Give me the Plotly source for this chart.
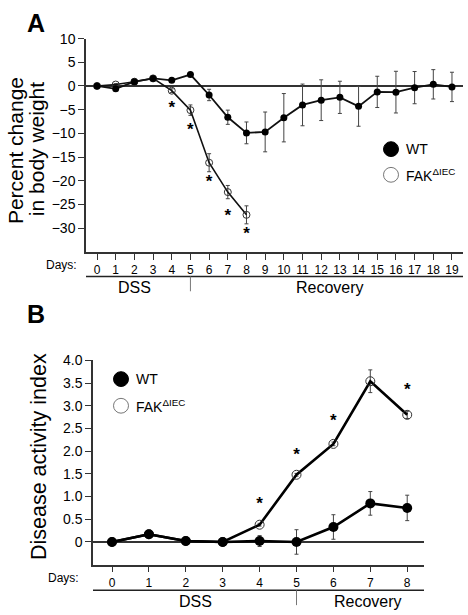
import plotly.graph_objects as go

W, H = 468, 615
FONT = "Liberation Sans, Arial, Helvetica, sans-serif"

# ---------- Panel A data ----------
days_a = list(range(0, 20))
wt_a = [0, -0.6, 0.9, 1.6, 1.2, 2.4, -1.9, -6.6, -9.9, -9.7, -6.7, -4.0, -3.0, -2.4, -4.3, -1.25, -1.3, -0.35, 0.35, -0.2]
wt_a_err = [0.2, 0.2, 0.2, 0.2, 0.2, 0.2, 1.2, 1.5, 2.3, 4.2, 5.1, 4.4, 4.3, 3.4, 4.2, 3.3, 4.4, 3.4, 3.1, 3.1]
days_fak_a = list(range(0, 9))
fak_a = [0, 0.3, 0.9, 1.6, -1.0, -5.1, -16.2, -22.4, -27.2]
fak_a_err = [0.2, 0.2, 0.2, 0.2, 0.4, 1.1, 1.9, 1.4, 1.9]
star_days_a = [4, 5, 6, 7, 8]
star_y_a = [-4.8, -9.4, -20.4, -27.5, -31.5]
yticks_a = [-30, -25, -20, -15, -10, -5, 0, 5, 10]

# ---------- Panel B data ----------
days_b = list(range(0, 9))
wt_b = [0, 0.17, 0.02, 0, 0.02, 0.0, 0.33, 0.85, 0.75]
wt_b_err = [0.02, 0.03, 0.02, 0.02, 0.12, 0.27, 0.27, 0.26, 0.28]
fak_b = [0, 0.17, 0.02, 0, 0.38, 1.48, 2.16, 3.54, 2.80]
fak_b_err = [0.02, 0.02, 0.02, 0.02, 0.03, 0.03, 0.04, 0.25, 0.08]
star_days_b = [4, 5, 6, 7, 8]
star_y_b = [0.83, 1.89, 2.65, 4.07, 3.32]
yticks_b = [0, 0.5, 1.0, 1.5, 2.0, 2.5, 3.0, 3.5, 4.0]
yticklabels_b = ["0", "0.5", "1.0", "1.5", "2.0", "2.5", "3.0", "3.5", "4.0"]


def px(x):
    return x / W


def py(y):
    return 1 - y / H


fig = go.Figure()

err_style = dict(type="data", thickness=1, width=2, color="#444")

# Panel A traces
fig.add_trace(go.Scatter(
    x=days_fak_a, y=fak_a, mode="lines+markers",
    line=dict(color="#111", width=1.6),
    marker=dict(symbol="circle-open", size=7, color="#333", line=dict(width=1)),
    error_y=dict(array=fak_a_err, **err_style),
    xaxis="x", yaxis="y", showlegend=False))
fig.add_trace(go.Scatter(
    x=days_a, y=wt_a, mode="lines+markers",
    line=dict(color="#111", width=1.8),
    marker=dict(symbol="circle", size=7, color="#000"),
    error_y=dict(array=wt_a_err, **err_style),
    xaxis="x", yaxis="y", showlegend=False))
fig.add_trace(go.Scatter(
    x=star_days_a, y=star_y_a, mode="text", text=["<b>*</b>"] * len(star_days_a),
    textfont=dict(family=FONT, size=17, color="#000"),
    xaxis="x", yaxis="y", showlegend=False, cliponaxis=False))

# Panel B traces
fig.add_trace(go.Scatter(
    x=days_b, y=fak_b, mode="lines+markers",
    line=dict(color="#000", width=2.6),
    marker=dict(symbol="circle-open", size=9, color="#333", line=dict(width=1)),
    error_y=dict(array=fak_b_err, **err_style),
    xaxis="x2", yaxis="y2", showlegend=False))
fig.add_trace(go.Scatter(
    x=days_b, y=wt_b, mode="lines+markers",
    line=dict(color="#000", width=2.6),
    marker=dict(symbol="circle", size=10, color="#000"),
    error_y=dict(array=wt_b_err, **err_style),
    xaxis="x2", yaxis="y2", showlegend=False))
fig.add_trace(go.Scatter(
    x=star_days_b, y=star_y_b, mode="text", text=["<b>*</b>"] * len(star_days_b),
    textfont=dict(family=FONT, size=17, color="#000"),
    xaxis="x2", yaxis="y2", showlegend=False, cliponaxis=False))

axis_common = dict(showgrid=False, showline=True, linecolor="#333", linewidth=1.5,
                   ticks="outside", ticklen=6, tickcolor="#333", tickwidth=1.2)

fig.update_layout(
    width=W, height=H,
    margin=dict(l=0, r=0, t=0, b=0),
    paper_bgcolor="white", plot_bgcolor="white",
    font=dict(family=FONT, color="#000"),
    xaxis=dict(domain=[px(86), px(463)], range=[-0.59, 19.59], anchor="y",
               tickvals=days_a, tickfont=dict(size=12), zeroline=False, **axis_common),
    yaxis=dict(domain=[py(247), py(31)], range=[-35, 10], anchor="x",
               tickvals=yticks_a, tickfont=dict(size=14),
               zeroline=True, zerolinecolor="#333", zerolinewidth=1.5, **axis_common),
    xaxis2=dict(domain=[px(93), px(424)], range=[-0.515, 8.455], anchor="y2",
                tickvals=days_b, tickfont=dict(size=12), zeroline=False, **axis_common),
    yaxis2=dict(domain=[py(564), py(357)], range=[-0.5, 4.0], anchor="x2",
                tickvals=yticks_b, ticktext=yticklabels_b, tickfont=dict(size=14),
                zeroline=True, zerolinecolor="#333", zerolinewidth=1.5, **axis_common),
)

shapes = []
annotations = []


def text(x, y, s, size, bold=False, angle=0, xanchor="center"):
    if bold:
        s = "<b>" + s + "</b>"
    annotations.append(dict(x=px(x), y=py(y), xref="paper", yref="paper", text=s,
                            showarrow=False, textangle=angle, xanchor=xanchor, yanchor="middle",
                            font=dict(family=FONT, size=size, color="#000")))


# Panel labels
text(36, 15, "A", 25, bold=True)
text(36, 310, "B", 25, bold=True)

# Y titles
text(15, 145, "Percent change", 21, angle=-90)
text(36, 143, "in body weight", 21, angle=-90)
text(39, 455, "Disease activity index", 21.5, angle=-90)

# Days labels
text(79, 260, "Days:", 12, xanchor="right")
text(81, 578, "Days:", 12, xanchor="right")

# DSS / Recovery brackets
for (x0, x1, yl, xref, yt, dss_x, rec_x) in [
        (86, 463, 272, "x", 283, 134, 330),
        (93, 424, 590, "x2", 601, 195, 368)]:
    shapes.append(dict(type="line", xref="paper", yref="paper",
                       x0=px(x0), x1=px(x1), y0=py(yl), y1=py(yl),
                       line=dict(color="#222", width=1.5)))
    shapes.append(dict(type="line", xref=xref, yref="paper",
                       x0=5, x1=5, y0=py(yl), y1=py(yl + 15),
                       line=dict(color="#777", width=1)))
    text(dss_x, yt, "DSS", 16)
    text(rec_x, yt, "Recovery", 16)

# Legends
for (cx, cy_wt, cy_fak) in [(391, 143, 169), (121, 376, 403)]:
    r = 7.5
    shapes.append(dict(type="circle", xref="paper", yref="paper",
                       x0=px(cx - r), x1=px(cx + r), y0=py(cy_wt + r), y1=py(cy_wt - r),
                       fillcolor="#000", line=dict(color="#000", width=1)))
    shapes.append(dict(type="circle", xref="paper", yref="paper",
                       x0=px(cx - r), x1=px(cx + r), y0=py(cy_fak + r), y1=py(cy_fak - r),
                       fillcolor="white", line=dict(color="#777", width=1)))
    text(cx + 13, cy_wt, "WT", 14, xanchor="left")
    text(cx + 13, cy_fak, "FAK<sup>ΔIEC</sup>", 14, xanchor="left")

fig.update_layout(shapes=shapes, annotations=annotations)

post = ("document.body.style.margin='0';document.body.style.padding='0';"
        "var d=document.getElementById('{plot_id}');"
        "d.style.position='absolute';d.style.left='0px';d.style.top='0px';")

fig.write_html("out.html", post_script=post, config={"displayModeBar": False})
